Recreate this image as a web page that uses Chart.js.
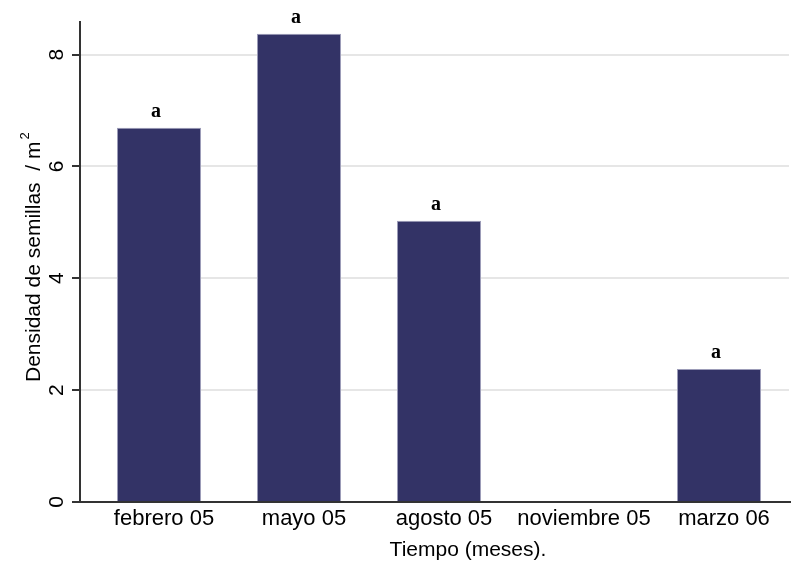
<!DOCTYPE html>
<html>
<head>
<meta charset="utf-8">
<script src="https://cdn.jsdelivr.net/npm/chart.js@4.4.1/dist/chart.umd.min.js"></script>
<style>
  html, body { margin: 0; padding: 0; background: #ffffff; }
  canvas { display: block; }
</style>
</head>
<body>
<canvas id="c" width="791" height="562"></canvas>
<script>
// Seed density per sampling date
const categories = ['febrero 05', 'mayo 05', 'agosto 05', 'noviembre 05', 'marzo 06'];
const densidad = [6.69, 8.37, 5.03, 0, 2.38];
const letras = ['a', 'a', 'a', '', 'a'];
const yTicks = [0, 2, 4, 6, 8];
const yMax = 8.6;
const xTitle = 'Tiempo (meses).';
const yTitle = 'Densidad de semillas  / m';
const yTitleSup = '2';

const SANS = '"Liberation Sans", Arial, sans-serif';
const SERIF = '"Liberation Serif", "Times New Roman", serif';

// Axis lines, ticks, gridlines and all labels are painted here so the
// y axis can sit slightly left of the first category band.
const axesPlugin = {
  id: 'axesPlugin',
  beforeDatasetsDraw(chart) {
    const { ctx, chartArea, scales: { y } } = chart;
    const x0 = chartArea.left - 9;
    ctx.save();
    ctx.strokeStyle = '#e6e6e6';
    ctx.lineWidth = 2;
    yTicks.forEach(v => {
      if (v === 0) return;
      const py = Math.round(y.getPixelForValue(v));
      ctx.beginPath();
      ctx.moveTo(x0, py);
      ctx.lineTo(chartArea.right, py);
      ctx.stroke();
    });
    ctx.restore();
  },
  afterDatasetsDraw(chart) {
    const { ctx, chartArea, scales: { x, y } } = chart;
    const x0 = chartArea.left - 9;
    ctx.save();

    ctx.strokeStyle = '#333333';
    ctx.lineWidth = 2;
    ctx.beginPath();
    ctx.moveTo(x0, chartArea.top);
    ctx.lineTo(x0, chartArea.bottom);
    ctx.stroke();

    ctx.beginPath();
    ctx.moveTo(x0 - 8, chartArea.bottom);
    ctx.lineTo(chart.width, chartArea.bottom);
    ctx.stroke();

    yTicks.forEach(v => {
      const py = Math.round(y.getPixelForValue(v));
      ctx.beginPath();
      ctx.moveTo(x0 - 8, py);
      ctx.lineTo(x0, py);
      ctx.stroke();
    });

    ctx.fillStyle = '#000000';
    ctx.font = '21px ' + SANS;
    ctx.textAlign = 'center';
    ctx.textBaseline = 'middle';
    yTicks.forEach(v => {
      const py = y.getPixelForValue(v);
      ctx.save();
      ctx.translate(57, py);
      ctx.rotate(-Math.PI / 2);
      ctx.fillText(String(v), 0, 0);
      ctx.restore();
    });

    ctx.font = '22px ' + SANS;
    categories.forEach((c, i) => {
      ctx.fillText(c, x.getPixelForValue(i) + 5, 519);
    });

    ctx.font = '21px ' + SANS;
    ctx.fillText(xTitle, 468, 550);

    // rotated y title with superscript
    ctx.save();
    ctx.translate(34, 382);
    ctx.rotate(-Math.PI / 2);
    ctx.textAlign = 'left';
    ctx.font = '21px ' + SANS;
    ctx.fillText(yTitle, 0, 0);
    const w = ctx.measureText(yTitle).width;
    ctx.font = '13px ' + SANS;
    ctx.fillText(yTitleSup, w + 2, -9);
    ctx.restore();

    // significance letters over the bars
    const meta = chart.getDatasetMeta(0);
    ctx.font = 'bold 20px ' + SERIF;
    ctx.textAlign = 'center';
    ctx.textBaseline = 'alphabetic';
    meta.data.forEach((bar, i) => {
      if (letras[i]) ctx.fillText(letras[i], bar.x - 3, bar.y - 11);
    });

    ctx.restore();
  }
};

new Chart(document.getElementById('c'), {
  type: 'bar',
  data: {
    labels: categories,
    datasets: [{
      data: densidad,
      backgroundColor: '#333366',
      borderColor: '#9c9cb8',
      borderWidth: 1,
      barPercentage: 0.6,
      categoryPercentage: 1.0
    }]
  },
  options: {
    responsive: false,
    animation: false,
    layout: { padding: { top: 21, right: 2, left: 0, bottom: 0 } },
    plugins: { legend: { display: false }, tooltip: { enabled: false } },
    scales: {
      x: {
        type: 'category',
        grid: { display: false },
        border: { display: false },
        ticks: { display: false },
        afterFit(s) { s.height = 60; }
      },
      y: {
        min: 0,
        max: yMax,
        grid: { display: false },
        border: { display: false },
        ticks: { display: false },
        afterFit(s) { s.width = 89; }
      }
    }
  },
  plugins: [axesPlugin]
});
</script>
</body>
</html>
